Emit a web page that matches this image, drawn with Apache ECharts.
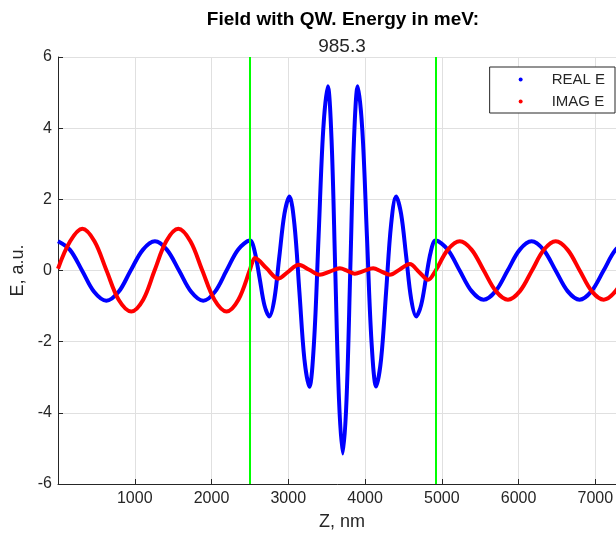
<!DOCTYPE html>
<html>
<head>
<meta charset="utf-8">
<script src="https://cdn.jsdelivr.net/npm/echarts@6/dist/echarts.min.js"></script>
<style>
  html, body { margin: 0; padding: 0; background: #fff; }
  #chart { width: 616px; height: 540px; }
</style>
</head>
<body>
<div id="chart"></div>
<script>
// values (Z in nm, E in a.u.)
const realZ = [0, 156, 313, 470, 630, 790, 947, 1105, 1263, 1420, 1577, 1735, 1892, 2044, 2196, 2348, 2500,
  2563, 2627, 2690, 2753, 2819, 2884, 2950, 3015, 3080, 3145, 3210, 3275, 3335, 3395, 3455, 3515,
  3564, 3612, 3661, 3710, 3759, 3808, 3856, 3905, 3965, 4025, 4085, 4145, 4210, 4275, 4340, 4405,
  4470, 4536, 4601, 4667, 4730, 4794, 4857, 4920,
  5076, 5233, 5389, 5545, 5701, 5858, 6014, 6170, 6326, 6483, 6639, 6795, 6951, 7108, 7264, 7420];
const realE = [0.82, 0.58, 0, -0.6, -0.85, -0.6, 0, 0.58, 0.82, 0.58, 0, -0.6, -0.85, -0.6, 0, 0.59, 0.84,
  0.53, -0.22, -0.98, -1.29, -0.8, 0.4, 1.59, 2.08, 1.3, -0.6, -2.49, -3.27, -2.03, 0.96, 3.94, 5.18,
  3.67, 0.02, -3.63, -5.14, -3.63, 0.02, 3.67, 5.18, 3.94, 0.96, -2.02, -3.26, -2.48, -0.59, 1.3, 2.08,
  1.59, 0.4, -0.8, -1.29, -0.98, -0.22, 0.53, 0.84,
  0.59, 0, -0.58, -0.82, -0.58, 0, 0.58, 0.82, 0.58, 0, -0.58, -0.82, -0.58, 0, 0.58, 0.82];

const imagZ = [0, 158, 317, 475, 632, 790, 955, 1110, 1258, 1410, 1567, 1725, 1880, 2038, 2196, 2350, 2500,
  2530, 2565, 2717, 2869, 3002, 3135, 3273, 3411, 3541, 3672, 3770, 3867, 3987, 4106, 4215, 4323,
  4453, 4583, 4703, 4822, 4920,
  5077, 5234, 5390, 5547, 5705, 5862, 6018, 6175, 6330, 6484, 6640, 6797, 6953, 7110, 7265, 7420];
const imagE = [0.05, 0.82, 1.17, 0.82, 0, -0.82, -1.15, -0.82, 0, 0.82, 1.17, 0.82, 0, -0.82, -1.15, -0.82, 0.02,
  0.22, 0.35, 0.06, -0.23, -0.03, 0.16, 0.02, -0.12, -0.03, 0.06, -0.01, -0.09, -0.01, 0.06, -0.03, -0.12,
  0.03, 0.18, -0.04, -0.26, 0,
  0.58, 0.82, 0.58, 0, -0.58, -0.82, -0.58, 0, 0.58, 0.82, 0.58, 0, -0.58, -0.82, -0.58, 0];

// quantum well edges (green lines)
const qwEdges = [2500, 4920];

const seriesNames = ['REAL E', 'IMAG E'];
const titleText = 'Field with QW. Energy in meV:';
const energyText = '985.3';

const FONT = '"Liberation Sans", Arial, sans-serif';
const INK = '#262626';

const zip = (xs, ys) => xs.map((x, i) => [x, ys[i]]);

const chart = echarts.init(document.getElementById('chart'), null, { renderer: 'canvas' });

chart.setOption({
  animation: false,
  textStyle: { fontFamily: FONT, color: INK },
  title: [
    {
      text: titleText, left: 338, top: 5, textAlign: 'center',
      textStyle: { fontFamily: FONT, fontSize: 19, fontWeight: 'bold', color: '#000' }
    },
    {
      text: energyText, left: 337, top: 32, textAlign: 'center',
      textStyle: { fontFamily: FONT, fontSize: 19, fontWeight: 'normal', color: INK }
    }
  ],
  legend: {
    data: seriesNames,
    orient: 'vertical',
    right: 1,
    top: 67,
    icon: 'circle',
    itemWidth: 4,
    itemHeight: 4,
    itemGap: 5,
    padding: [4, 10, 3, 29],
    backgroundColor: '#fff',
    borderColor: INK,
    borderWidth: 1,
    borderRadius: 0,
    textStyle: { fontFamily: FONT, fontSize: 15, color: INK, lineHeight: 17, padding: [0, 0, 0, 24] }
  },
  grid: {
    left: 58, right: -10, top: 57, bottom: 56,
    containLabel: false,
    outerBoundsMode: 'none'
  },
  xAxis: {
    type: 'value',
    min: 0, max: 7400, interval: 1000,
    name: 'Z, nm', nameLocation: 'middle', nameGap: 29,
    nameTextStyle: { fontFamily: FONT, fontSize: 18, color: INK },
    axisLine: { onZero: false, lineStyle: { color: INK, width: 1 } },
    axisTick: { inside: true, length: 5, lineStyle: { color: INK } },
    axisLabel: {
      showMinLabel: false, showMaxLabel: false,
      fontFamily: FONT, fontSize: 16, color: INK, margin: 7,
      formatter: v => String(v)
    },
    splitLine: { show: true, lineStyle: { color: '#e0e0e0', width: 1 } }
  },
  yAxis: {
    type: 'value',
    min: -6, max: 6, interval: 2,
    name: 'E, a.u.', nameLocation: 'middle', nameGap: 30, nameRotate: 90,
    nameTextStyle: { fontFamily: FONT, fontSize: 18, color: INK },
    axisLine: { show: true, onZero: false, lineStyle: { color: INK, width: 1 } },
    axisTick: { show: true, inside: true, length: 5, lineStyle: { color: INK } },
    axisLabel: { fontFamily: FONT, fontSize: 16, color: INK, margin: 6, formatter: v => String(v) },
    splitLine: { show: true, lineStyle: { color: '#e0e0e0', width: 1 } }
  },
  series: [
    {
      name: seriesNames[0],
      type: 'line',
      data: zip(realZ, realE),
      smooth: 0.34,
      showSymbol: false,
      symbol: 'circle',
      itemStyle: { color: '#0000ff' },
      lineStyle: { color: '#0000ff', width: 4 }
    },
    {
      name: seriesNames[1],
      type: 'line',
      data: zip(imagZ, imagE),
      smooth: 0.34,
      showSymbol: false,
      symbol: 'circle',
      itemStyle: { color: '#ff0000' },
      lineStyle: { color: '#ff0000', width: 4 },
      markLine: {
        silent: true,
        symbol: 'none',
        label: { show: false },
        lineStyle: { color: '#00ff00', width: 2, type: 'solid' },
        data: qwEdges.map(z => ({ xAxis: z }))
      }
    }
  ]
});
</script>
</body>
</html>
